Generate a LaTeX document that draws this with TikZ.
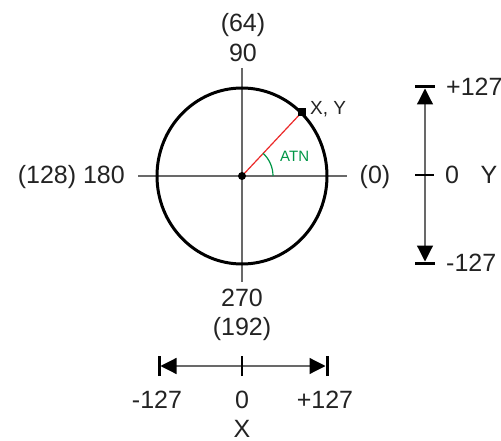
\documentclass[tikz,border=0pt]{standalone}
\usepackage{fontspec}
\setmainfont{Liberation Sans}
\usetikzlibrary{arrows.meta}
\definecolor{axisgray}{RGB}{105,105,105}
\definecolor{atngreen}{RGB}{0,150,70}
\definecolor{vecred}{RGB}{235,40,40}
\definecolor{textgray}{RGB}{35,35,35}
\begin{document}
\begin{tikzpicture}[x=1pt,y=-1pt,
  lbl/.style={font=\fontsize{25}{30}\selectfont, inner sep=0pt, anchor=base, text=textgray},
  smalllbl/.style={font=\fontsize{19}{22}\selectfont, inner sep=0pt, anchor=base west, text=textgray},
  axisline/.style={draw=axisgray, line width=1.2pt},
  endbar/.style={draw=black, line width=3pt},
  rangearrow/.style={draw=axisgray, line width=1.2pt, {Triangle[length=16pt,width=16pt,color=black]}-{Triangle[length=16pt,width=16pt,color=black]}, shorten <=1.5pt, shorten >=1.5pt}
]
\useasboundingbox (0,0) rectangle (501,441);

% circle and axes
\coordinate (O) at (242,176);
\coordinate (hL) at (138,176);
\coordinate (hR) at (347,176);
\coordinate (vT) at (242,68);
\coordinate (vB) at (242,282);
\draw[axisline] (hL) -- (hR);
\draw[axisline] (vT) -- (vB);
\draw[line width=3pt] (O) ellipse [x radius=85, y radius=88];

% vector
\coordinate (P) at (302,112);
\draw[vecred, line width=1.2pt] (O) -- (P);
\draw[atngreen, line width=1.2pt] ([xshift=31pt]O) arc [start angle=0, end angle=-47, radius=31];
\fill (O) circle [radius=4];
\fill ([shift={(-4,-4)}]P) rectangle ([shift={(4,4)}]P);

% labels round the circle
\node[lbl] (l64) at (243,32) {(64)};
\node[lbl] (l90) at (243,62) {90};
\node[lbl, anchor=base east] (l180) at (125,184) {(128) 180};
\node[lbl] (l0) at (375,184) {(0)};
\node[lbl] (l270) at (242,306) {270};
\node[lbl] (l192) at (242,335) {(192)};
\node[smalllbl] (lxy) at (310,115) {X, Y};
\node[font=\fontsize{15}{18}\selectfont, inner sep=0pt, anchor=base west, text=atngreen] (latn) at (280,162) {ATN};

% Y range
\coordinate (yT) at (425,87);
\coordinate (yB) at (425,263);
\coordinate (yM) at (425,175);
\draw[rangearrow] (yT) -- (yB);
\draw[endbar] ([xshift=-10pt]yT) -- ([xshift=10pt]yT);
\draw[endbar] ([xshift=-10pt]yB) -- ([xshift=10pt]yB);
\draw[axisline, draw=black] ([xshift=-10pt]yM) -- ([xshift=9pt]yM);
\node[lbl, anchor=base west] (ly127) at (446,96) {+127};
\node[lbl] (ly0) at (452,184) {0};
\node[lbl] (lY) at (489,184) {Y};
\node[lbl, anchor=base west] (lym127) at (446,271) {-127};

% X range
\coordinate (xL) at (159,366);
\coordinate (xR) at (327,366);
\coordinate (xM) at (242,366);
\draw[rangearrow] (xL) -- (xR);
\draw[endbar] ([yshift=-10pt]xL) -- ([yshift=10pt]xL);
\draw[endbar] ([yshift=-10pt]xR) -- ([yshift=10pt]xR);
\draw[axisline, draw=black] ([yshift=-10pt]xM) -- ([yshift=10pt]xM);
\node[lbl] (lxm127) at (157,408) {-127};
\node[lbl] (lx0) at (242,408) {0};
\node[lbl] (lx127) at (325,408) {+127};
\node[lbl] (lX) at (242,437) {X};
\end{tikzpicture}
\end{document}
